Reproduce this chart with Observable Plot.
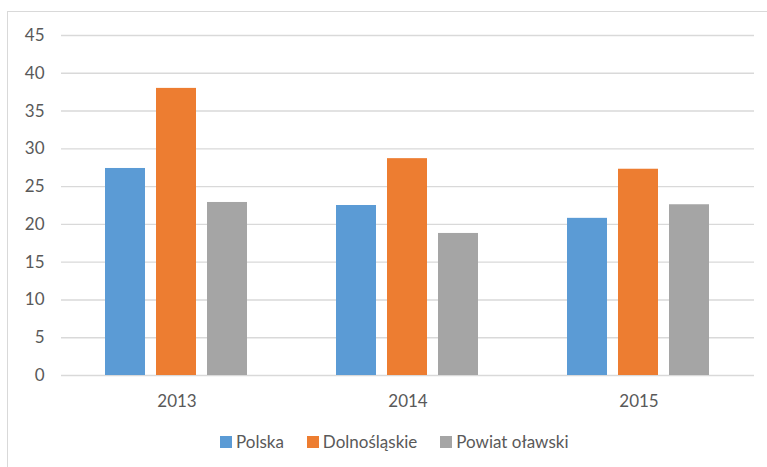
<!DOCTYPE html>
<html>
<head>
<meta charset="utf-8">
<script src="https://cdn.jsdelivr.net/npm/d3@7"></script>
<script src="https://cdn.jsdelivr.net/npm/@observablehq/plot@0.6"></script>
<style>
  html, body { margin: 0; padding: 0; background: #fff; overflow: hidden; width: 767px; height: 467px; }
  #frame { position: absolute; left: 7px; top: 11px; width: 820px; height: 520px; border: 1.5px solid #d9d9d9; box-sizing: border-box; }
  #chart { position: absolute; left: 0; top: 0; }
  #legend { position: absolute; left: 220px; top: 431px; display: flex; align-items: center; font-family: Lato, sans-serif; font-size: 17px; color: #595959; }
  #legend .item { display: flex; align-items: center; margin-right: 23px; }
  #legend .sw { width: 12px; height: 12px; margin-right: 4px; }
</style>
</head>
<body>
<div id="frame"></div>
<div id="chart"></div>
<div id="legend"></div>
<script>
const years = ["2013", "2014", "2015"];
const series = ["Polska", "Dolnośląskie", "Powiat oławski"];
const polska = [27.4, 22.5, 20.8];
const dolnoslaskie = [38.0, 28.7, 27.3];
const powiat = [22.9, 18.8, 22.6];
const colors = ["#5b9bd5", "#ed7d31", "#a5a5a5"];
const yTicks = [0, 5, 10, 15, 20, 25, 30, 35, 40, 45];

const values = [polska, dolnoslaskie, powiat];
const data = [];
years.forEach((yr, i) => {
  series.forEach((s, j) => data.push({year: yr, series: s, value: values[j][i]}));
});

const chart = Plot.plot({
  width: 767,
  height: 420,
  marginLeft: 60,
  marginRight: 12,
  marginTop: 35,
  marginBottom: 45,
  style: {background: "transparent", fontFamily: "Lato, sans-serif", fontSize: "17px", color: "#595959"},
  fx: {domain: years, padding: 0, label: null},
  x: {domain: series, paddingInner: 0.223, paddingOuter: 0.84, axis: null},
  y: {domain: [0, 45], label: null},
  color: {domain: series, range: colors},
  marks: [
    Plot.gridY(yTicks, {stroke: "#d9d9d9", strokeOpacity: 1, strokeWidth: 1.4}),
    Plot.barY(data, {fx: "year", x: "series", y: "value", fill: "series", dx: -1}),
    Plot.axisY(yTicks, {tickSize: 0, tickPadding: 17, label: null, fill: "#595959"}),
    Plot.axisFx({tickSize: 0, tickPadding: 19, label: null, anchor: "bottom", fill: "#595959"})
  ]
});
document.getElementById("chart").appendChild(chart);

const legend = document.getElementById("legend");
series.forEach((s, i) => {
  const item = document.createElement("div");
  item.className = "item";
  const sw = document.createElement("div");
  sw.className = "sw";
  sw.style.background = colors[i];
  const t = document.createElement("span");
  t.textContent = s;
  item.appendChild(sw);
  item.appendChild(t);
  legend.appendChild(item);
});
</script>
</body>
</html>
